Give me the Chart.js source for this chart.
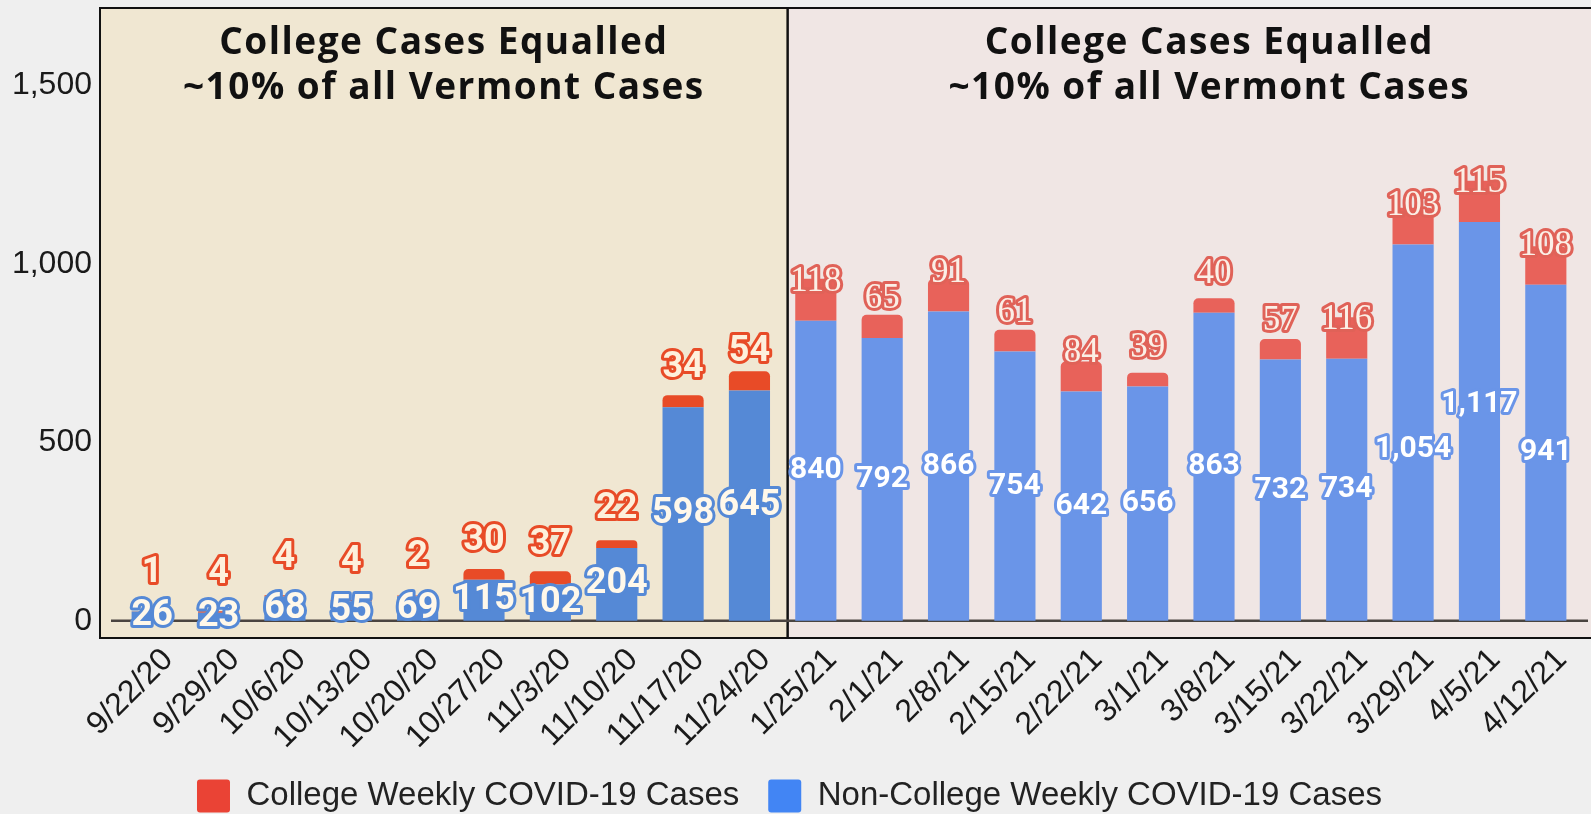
<!DOCTYPE html>
<html lang="en">
<head>
<meta charset="UTF-8">
<title>College vs Non-College Weekly COVID-19 Cases</title>
<script src="https://cdn.jsdelivr.net/npm/chart.js"></script>
<style>
  html, body { margin: 0; padding: 0; background: #efefef; }
  #wrap { width: 1591px; height: 814px; position: relative; }
</style>
</head>
<body>
<div id="wrap"><canvas id="chart"></canvas></div>
<script>
// Weekly cases, fall 2020 semester then spring 2021 semester
const weeks = ['9/22/20', '9/29/20', '10/6/20', '10/13/20', '10/20/20', '10/27/20', '11/3/20', '11/10/20', '11/17/20', '11/24/20',
               '1/25/21', '2/1/21', '2/8/21', '2/15/21', '2/22/21', '3/1/21', '3/8/21', '3/15/21', '3/22/21', '3/29/21', '4/5/21', '4/12/21'];
const collegeCases = [1, 4, 4, 4, 2, 30, 37, 22, 34, 54,
                      118, 65, 91, 61, 84, 39, 40, 57, 116, 103, 115, 108];
const nonCollegeCases = [26, 23, 68, 55, 69, 115, 102, 204, 598, 645,
                         840, 792, 866, 754, 642, 656, 863, 732, 734, 1054, 1117, 941];
const yTicks = [0, 500, 1000, 1500];
const panelTitle = ['College Cases Equalled', '~10% of all Vermont Cases'];
const splitIndex = 10; // first week of the spring panel

const fmt = v => v.toLocaleString('en-US');
const isFall = i => i < splitIndex;

function outlined(ctx, text, x, y, font, fill, stroke, lw) {
    ctx.font = font;
    ctx.textAlign = 'center';
    ctx.textBaseline = 'middle';
    ctx.lineJoin = 'round';
    ctx.lineWidth = lw;
    ctx.strokeStyle = stroke;
    ctx.strokeText(text, x, y);
    ctx.fillStyle = fill;
    ctx.fillText(text, x, y);
}

// shaded boxes behind each semester, zero line and panel titles
const panels = {
    id: 'panels',
    beforeDatasetsDraw(chart) {
        const { ctx, chartArea: a, scales: { x, y } } = chart;
        const left = a.left - 19;
        const mid = (x.getPixelForValue(splitIndex - 1) + x.getPixelForValue(splitIndex)) / 2 + 5;
        const right = chart.width + 2;
        const h = a.bottom - a.top;
        ctx.save();
        ctx.fillStyle = '#f0e7d2';
        ctx.fillRect(left, a.top, mid - left, h);
        ctx.fillStyle = '#f0e6e4';
        ctx.fillRect(mid, a.top, right - mid, h);
        ctx.strokeStyle = '#111';
        ctx.lineWidth = 2;
        ctx.strokeRect(left, a.top, mid - left, h);
        ctx.strokeRect(mid, a.top, right - mid, h);

        const y0 = y.getPixelForValue(0);
        ctx.strokeStyle = '#4a4440';
        ctx.lineWidth = 2.5;
        ctx.beginPath();
        ctx.moveTo(left + 11, y0);
        ctx.lineTo(chart.width - 3, y0);
        ctx.stroke();

        ctx.fillStyle = '#111';
        ctx.font = '700 37px "Open Sans"';
        ctx.letterSpacing = '1.5px';
        ctx.textAlign = 'center';
        ctx.textBaseline = 'middle';
        const centers = [(left + mid) / 2, (mid + chart.width + 40) / 2];
        centers.forEach(cx => {
            ctx.fillText(panelTitle[0], cx, a.top + 35);
            ctx.fillText(panelTitle[1], cx, a.top + 80);
        });
        ctx.letterSpacing = '0px';
        ctx.restore();
    }
};

// outlined value labels: non-college in the middle of its bar, college above it
const valueLabels = {
    id: 'valueLabels',
    afterDatasetsDraw(chart) {
        const ctx = chart.ctx;
        const bars = chart.getDatasetMeta(0).data;
        ctx.save();

        // non-college labels, nudged apart when neighbours overlap
        const blue = bars.map((bar, i) => {
            const font = isFall(i) ? '700 36px Roboto' : '700 30px Roboto';
            ctx.font = font;
            const text = fmt(nonCollegeCases[i]);
            return { text, font, x: bar.x, y: (bar.y + bar.base) / 2, w: ctx.measureText(text).width + 6 };
        });
        for (let i = 1; i < blue.length; i++) {
            const p = blue[i - 1], q = blue[i];
            const overlapX = (p.w + q.w) / 2 - (q.x - p.x);
            const dy = q.y - p.y;
            if (overlapX > 4 && Math.abs(dy) < 45) {
                // move the higher label up and the lower one down
                const shift = (45 - Math.abs(dy)) / 2 * (dy < 0 ? -1 : 1);
                p.y -= shift;
                q.y += shift;
            }
        }
        blue.forEach((l, i) => {
            if (isFall(i)) {
                outlined(ctx, l.text, l.x, l.y, l.font, '#fff8ea', '#5589d6', 6);
            } else {
                outlined(ctx, l.text, l.x, l.y, l.font, '#ffffff', '#6a95e8', 6);
            }
        });

        bars.forEach((bar, i) => {
            if (isFall(i)) {
                outlined(ctx, fmt(collegeCases[i]), bar.x, bar.y - 39, '700 36px Roboto', '#fdf0dc', '#e84b27', 6);
            } else {
                outlined(ctx, fmt(collegeCases[i]), bar.x, bar.y - 39, '35px "Liberation Serif"', '#fbefe6', '#e06258', 6);
            }
        });
        ctx.restore();
    }
};

const legendColors = ['#4285f4', '#ea4335'];
const axisFont = { family: '"Liberation Sans", Arial, sans-serif', size: 32 };

new Chart(document.getElementById('chart'), {
    type: 'bar',
    data: {
        labels: weeks,
        datasets: [
            {
                label: 'Non-College Weekly COVID-19 Cases',
                data: nonCollegeCases,
                backgroundColor: c => isFall(c.dataIndex) ? '#5589d6' : '#6a95e8'
            },
            {
                label: 'College Weekly COVID-19 Cases',
                data: collegeCases,
                backgroundColor: c => isFall(c.dataIndex) ? '#e84b27' : '#e8625a',
                borderRadius: { topLeft: 5, topRight: 5 },
                borderSkipped: 'bottom'
            }
        ]
    },
    options: {
        responsive: true,
        maintainAspectRatio: false,
        animation: false,
        layout: { padding: { top: 8, right: 12, left: 0, bottom: -8.5 } },
        datasets: { bar: { categoryPercentage: 1, barPercentage: 0.62 } },
        scales: {
            x: {
                stacked: true,
                grid: { display: false, drawTicks: false },
                border: { display: false },
                ticks: {
                    autoSkip: false, minRotation: 45, maxRotation: 45,
                    padding: 3, labelOffset: 16,
                    color: '#1a1a1a', font: axisFont
                },
                afterFit(s) { s.height = 112.5; s.paddingLeft = 0; s.paddingRight = 0; }
            },
            y: {
                stacked: true,
                min: -48,
                max: 1716,
                afterBuildTicks(s) { s.ticks = yTicks.map(v => ({ value: v })); },
                grid: { display: false, drawTicks: false },
                border: { display: false },
                ticks: { padding: 27, color: '#1a1a1a', font: axisFont },
                afterFit(s) { s.width = 119; s.paddingTop = 0; s.paddingBottom = 0; }
            }
        },
        plugins: {
            legend: {
                position: 'bottom',
                labels: {
                    boxWidth: 33, boxHeight: 33, padding: 29,
                    useBorderRadius: true, borderRadius: 3,
                    color: '#222',
                    font: { family: '"Liberation Sans", Arial, sans-serif', size: 33, lineHeight: 1 },
                    sort: (a, b) => b.datasetIndex - a.datasetIndex,
                    generateLabels(chart) {
                        const items = Chart.defaults.plugins.legend.labels.generateLabels(chart);
                        items.forEach(it => {
                            it.fillStyle = legendColors[it.datasetIndex];
                            it.strokeStyle = legendColors[it.datasetIndex];
                            it.lineWidth = 0;
                        });
                        return items;
                    }
                }
            },
            tooltip: { enabled: false }
        }
    },
    plugins: [panels, valueLabels]
});
</script>
</body>
</html>
